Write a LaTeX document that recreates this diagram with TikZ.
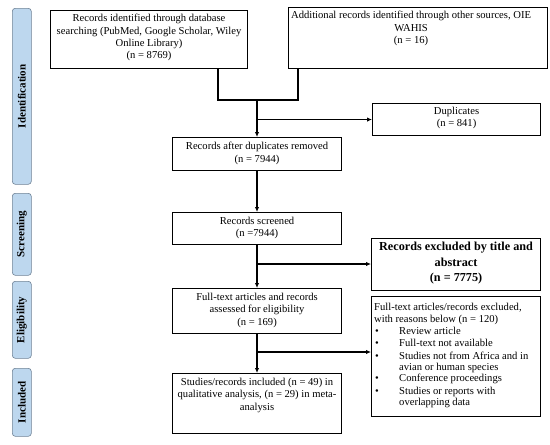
\documentclass[tikz,border=0pt]{standalone}
\usepackage{fontspec}
\usepackage{array}
\setmainfont{Liberation Serif}
\usetikzlibrary{arrows.meta}
\definecolor{phasefill}{HTML}{BDD7EE}
\definecolor{phasedraw}{HTML}{6F8296}
\tikzset{
  box/.style={draw, line width=1.1pt, rectangle, inner sep=0pt, anchor=north west},
  txt/.style={anchor=north, align=center, inner sep=0pt, font=\fontsize{10.6}{12.4}\selectfont},
  conn/.style={line width=1.6pt},
  arr/.style={line width=1.6pt, -{Latex[length=5pt,width=4.5pt]}},
  phase/.style={draw=phasedraw, fill=phasefill, line width=0.6pt, rounded corners=3pt, minimum width=19pt, inner sep=0pt, anchor=north west},
  phtxt/.style={rotate=90, font=\fontsize{11}{12}\selectfont\bfseries, inner sep=0pt}
}
\begin{document}
\begin{tikzpicture}[x=1pt,y=-1pt]
\useasboundingbox (0,0) rectangle (550,445);
% phases
\node[phase, minimum height=176pt] (p1) at (12,8) {};
\node[phase, minimum height=82pt] (p2) at (12,193) {};
\node[phase, minimum height=77pt] (p3) at (12,281) {};
\node[phase, minimum height=68pt] (p4) at (12,368) {};
\node[phtxt] (p1t) at (p1.center) {Identification};
\node[phtxt] (p2t) at (p2.center) {Screening};
\node[phtxt] (p3t) at (p3.center) {Eligibility};
\node[phtxt] (p4t) at (p4.center) {Included};
% boxes
\node[box, minimum width=197pt, minimum height=58pt] (b1) at (50,10) {};
\node[txt] (b1t) at ([yshift=-4pt]b1.north) {Records identified through database\\searching (PubMed, Google Scholar, Wiley\\Online Library)\\(n = 8769)};
\node[box, minimum width=259pt, minimum height=61pt] (b2) at (288,7) {};
\node[txt] (b2t) at ([xshift=-7pt,yshift=-4pt]b2.north) {Additional records identified through other sources, OIE\\WAHIS\\(n = 16)};
\node[box, minimum width=168pt, minimum height=32pt] (dup) at (372,103) {};
\node[txt] (dupt) at ([yshift=-4pt]dup.north) {Duplicates\\(n = 841)};
\node[box, minimum width=169pt, minimum height=33pt] (b3) at (172,137) {};
\node[txt] (b3t) at ([yshift=-5pt]b3.north) {Records after duplicates removed\\(n = 7944)};
\node[box, minimum width=169pt, minimum height=32pt] (b4) at (172,212) {};
\node[txt] (b4t) at ([yshift=-5pt]b4.north) {Records screened\\(n =7944)};
\node[box, minimum width=169pt, minimum height=52pt] (ex1) at (371,238) {};
\node[txt, font=\fontsize{12.2}{15.5}\selectfont\bfseries] (ex1t) at ([yshift=-4pt]ex1.north) {Records excluded by title and\\abstract\\(n = 7775)};
\node[box, minimum width=169pt, minimum height=45pt] (b5) at (172,288) {};
\node[txt] (b5t) at ([yshift=-5pt]b5.north) {Full-text articles and records\\assessed for eligibility\\(n = 169)};
\node[box, minimum width=169pt, minimum height=120pt] (ex2) at (371,296) {};
\node[anchor=north west, align=left, inner sep=0pt, font=\fontsize{10.6}{11.6}\selectfont] (ex2t) at ([xshift=3pt,yshift=-7pt]ex2.north west) {Full-text articles/records excluded,\\with reasons below (n = 120)};
\node[anchor=north west, inner sep=0pt, font=\fontsize{10.6}{11.2}\selectfont] (ex2l) at ([xshift=4pt,yshift=-30pt]ex2.north west) {%
\begin{tabular}{@{}p{24pt}@{}>{\raggedright\arraybackslash}p{132pt}@{}}
\textbullet & Review article\\[1.5pt]
\textbullet & Full-text not available\\[1.5pt]
\textbullet & Studies not from Africa and in avian or human species\\[1.5pt]
\textbullet & Conference proceedings\\[1.5pt]
\textbullet & Studies or reports with\newline overlapping data
\end{tabular}};
\node[box, minimum width=169pt, minimum height=60pt] (b6) at (172,373) {};
\node[txt] (b6t) at ([yshift=-5pt]b6.north) {Studies/records included (n = 49) in\\qualitative analysis, (n = 29) in meta-\\analysis};
% connectors
\coordinate (j1) at (218,100);
\coordinate (j2) at (298,100);
\coordinate (m) at (257,100);
\coordinate (k1) at (257,264);
\coordinate (k2) at (257,352);
\draw[conn] (j1 |- b1.south) -- (j1) -- (j2) -- (j2 |- b2.south);
\draw[arr] (m) -- (m |- b3.north);
\draw[arr] (m |- dup.west) -- (dup.west);
\draw[arr] (b3.south -| m) -- (b4.north -| m);
\draw[arr] (b4.south -| m) -- (b5.north -| m);
\draw[arr] (k1) -- (k1 -| ex1.west);
\draw[arr] (b5.south -| m) -- (b6.north -| m);
\draw[arr] (k2) -- (k2 -| ex2.west);
\end{tikzpicture}
\end{document}
